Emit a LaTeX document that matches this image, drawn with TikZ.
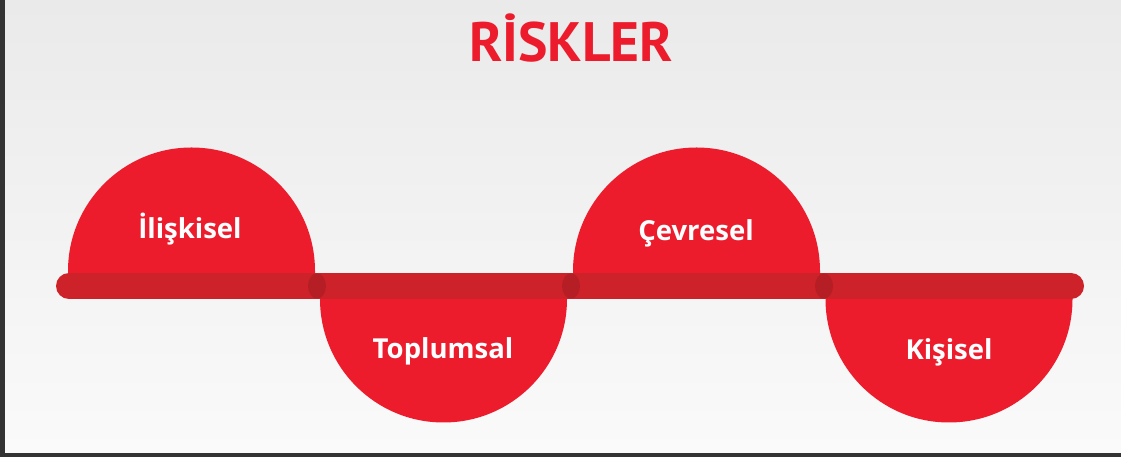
\documentclass[tikz,border=0pt]{standalone}
\usepackage{fontspec}
\setmainfont{PT Sans}
\newfontfamily\lblfont{Open Sans}
\definecolor{domered}{HTML}{EC1C2D}
\definecolor{barred}{HTML}{CD2229}
\definecolor{jointred}{HTML}{B41E24}
\definecolor{titlered}{HTML}{EC1C2D}
\definecolor{framegray}{HTML}{333333}
\definecolor{bgtop}{HTML}{EAEAEA}
\definecolor{bgbot}{HTML}{FAFAFA}
\begin{document}
\begin{tikzpicture}[x=1pt,y=1pt,
  dome/.style={fill=domered},
  joint/.style={fill=jointred},
  lbl/.style={text=white,font=\lblfont\fontsize{27.5}{27.5}\selectfont\bfseries,anchor=base,inner sep=0pt},
  ttl/.style={text=titlered,font=\fontsize{55.5}{55.5}\selectfont\bfseries,anchor=base,inner sep=0pt}]
\useasboundingbox (0,0) rectangle (1121,457);
% frame and background
\fill[framegray] (0,0) rectangle (1121,457);
\shade[shading angle=20,top color=bgtop,bottom color=bgbot] (5,4) rectangle (1121,457);
% domes
\fill[dome] (68,171) -- (68,186) arc[start angle=180,end angle=0,radius=123.5] -- (315,171) -- cycle;
\fill[dome] (573,171) -- (573,186) arc[start angle=180,end angle=0,radius=123.5] -- (820,171) -- cycle;
\fill[dome] (320,171) -- (320,158) arc[start angle=180,end angle=360,radius=123.5] -- (567,171) -- cycle;
\fill[dome] (825.5,171) -- (825.5,158) arc[start angle=180,end angle=360,radius=123.5] -- (1072.5,171) -- cycle;
% bar
\coordinate (barL) at (69,171);
\coordinate (barR) at (1071,171);
\draw[barred,line width=26,line cap=round] (barL) -- (barR);
\fill[joint] (317,171) ellipse[x radius=9,y radius=12.5];
\fill[joint] (571,171) ellipse[x radius=9,y radius=12.5];
\fill[joint] (824,171) ellipse[x radius=9,y radius=12.5];
% labels
\node[ttl] (title) at (571,395) {RİSKLER};
\node[lbl] (l1) at (190,218) {İlişkisel};
\node[lbl] (l2) at (443,98) {Toplumsal};
\node[lbl] (l3) at (696,216) {Çevresel};
\node[lbl] (l4) at (949,97) {Kişisel};
\end{tikzpicture}
\end{document}
